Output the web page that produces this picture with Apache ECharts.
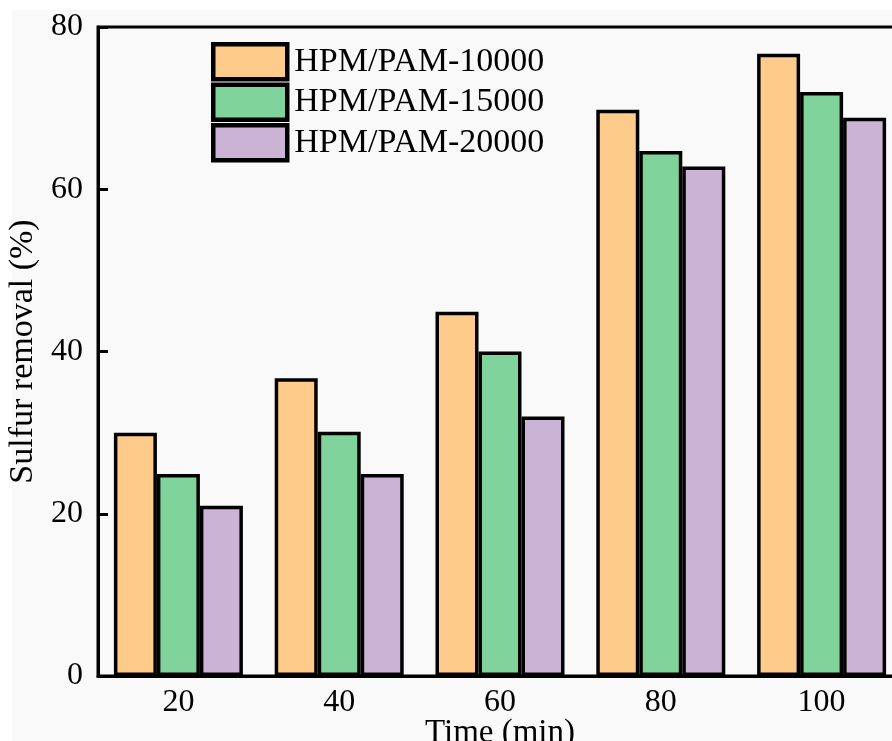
<!DOCTYPE html>
<html>
<head>
<meta charset="utf-8">
<script src="https://cdn.jsdelivr.net/npm/echarts@6/dist/echarts.min.js"></script>
<style>
    html, body { margin: 0; padding: 0; background: #fff; }
    #chart { width: 892px; height: 741px; }
</style>
</head>
<body>
<div id="chart"></div>
<script>
var categories = ['20', '40', '60', '80', '100'];
var seriesNames = ['HPM/PAM-10000', 'HPM/PAM-15000', 'HPM/PAM-20000'];
var pam10000 = [30.0, 36.7, 44.9, 69.8, 76.7];
var pam15000 = [24.9, 30.1, 40.0, 64.7, 72.0];
var pam20000 = [21.0, 24.9, 32.0, 62.8, 68.8];
var colors = ['#fecb8b', '#80d39b', '#cab3d5'];

var fontFamily = '"Liberation Serif", "Times New Roman", serif';

var makeSerie = function(name, data, color) {
    return {
        name: name,
        type: 'bar',
        barWidth: 43,
        barGap: '0%',
        data: data,
        itemStyle: {
            color: color,
            borderColor: '#000',
            borderWidth: 3.5
        }
    };
};

var option = {
    backgroundColor: '#fff',
    animation: false,
    graphic: [{
        type: 'rect',
        z: -10,
        silent: true,
        shape: { x: 12, y: 10, width: 892, height: 741 },
        style: { fill: '#f9f9f9' }
    }],
    grid: {
        left: 98,
        top: 27,
        right: -10,
        bottom: 65,
        outerBoundsMode: 'none',
        containLabel: false,
        show: true,
        borderColor: '#000',
        borderWidth: 3,
        backgroundColor: 'transparent'
    },
    legend: {
        orient: 'vertical',
        left: 211,
        top: 42,
        padding: 0,
        itemWidth: 74,
        itemHeight: 35,
        itemGap: 1,
        icon: 'rect',
        data: seriesNames,
        itemStyle: { borderWidth: 4.5, borderColor: '#000' },
        textStyle: {
            fontFamily: fontFamily,
            fontSize: 34,
            lineHeight: 38,
            color: '#000',
            padding: [0, 0, 0, 2]
        }
    },
    xAxis: {
        type: 'category',
        data: categories,
        name: 'Time (min)',
        nameLocation: 'middle',
        nameGap: 41,
        nameMoveOverlap: false,
        nameTextStyle: { fontFamily: fontFamily, fontSize: 33, color: '#000' },
        axisLine: { lineStyle: { color: '#000', width: 3 } },
        axisTick: { show: false },
        axisLabel: { fontFamily: fontFamily, fontSize: 32, color: '#000', margin: 11 }
    },
    yAxis: {
        type: 'value',
        min: 0,
        max: 80,
        interval: 20,
        name: 'Sulfur removal (%)',
        nameLocation: 'middle',
        nameGap: 49,
        nameTextStyle: { fontFamily: fontFamily, fontSize: 34, color: '#000' },
        splitLine: { show: false },
        axisLine: { show: true, lineStyle: { color: '#000', width: 3 } },
        axisTick: { show: true, inside: true, length: 10, lineStyle: { color: '#000', width: 3 } },
        axisLabel: { fontFamily: fontFamily, fontSize: 32, color: '#000', margin: 15 }
    },
    series: [
        makeSerie(seriesNames[0], pam10000, colors[0]),
        makeSerie(seriesNames[1], pam15000, colors[1]),
        makeSerie(seriesNames[2], pam20000, colors[2])
    ]
};

var mychart = echarts.init(document.getElementById('chart'));
mychart.setOption(option);
</script>
</body>
</html>
